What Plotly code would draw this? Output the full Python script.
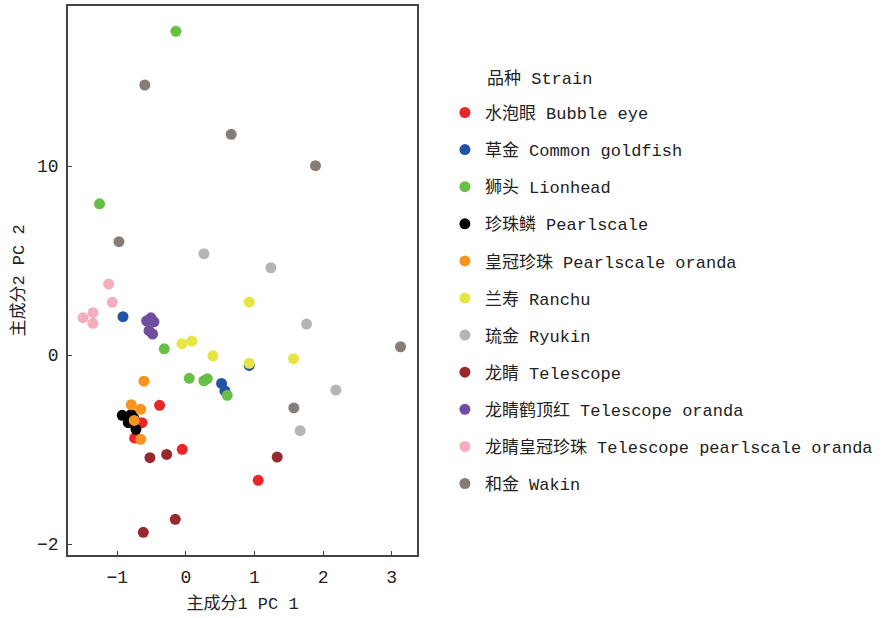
import plotly.graph_objects as go

strains = [
    "水泡眼 Bubble eye", "草金 Common goldfish", "狮头 Lionhead", "珍珠鳞 Pearlscale",
    "皇冠珍珠 Pearlscale oranda", "兰寿 Ranchu", "琉金 Ryukin", "龙睛 Telescope",
    "龙睛鹤顶红 Telescope oranda", "龙睛皇冠珍珠 Telescope pearlscale oranda", "和金 Wakin",
]
colors = ["#e8262a", "#2353a3", "#67bf45", "#000000", "#f7941d", "#e5e544",
          "#b5b5b7", "#962a2e", "#6f4ea0", "#f5aebe", "#857d78"]

bubble_x = [-0.384, -0.641, -0.748, -0.054, 1.054]
bubble_y = [-0.266, -0.358, -0.439, -0.499, -0.663]
common_x = [-0.918, 0.52, 0.569, 0.923]
common_y = [0.203, -0.150, -0.190, -0.055]
lion_x = [-0.146, -1.26, -0.316, 0.048, 0.262, 0.311, 0.602]
lion_y = [1.713, 0.80, 0.033, -0.123, -0.136, -0.125, -0.213]
pearl_x = [-0.929, -0.841, -0.797, -0.758, -0.729, -0.816]
pearl_y = [-0.319, -0.358, -0.314, -0.335, -0.393, -0.339]
poranda_x = [-0.612, -0.797, -0.66, -0.754, -0.66]
poranda_y = [-0.138, -0.263, -0.287, -0.346, -0.446]
ranchu_x = [0.923, -0.058, 0.087, 0.394, 1.57, 0.923]
ranchu_y = [0.280, 0.060, 0.074, -0.004, -0.019, -0.044]
ryukin_x = [0.262, 1.239, 1.759, 2.187, 1.666]
ryukin_y = [0.536, 0.462, 0.164, -0.185, -0.40]
tele_x = [-0.525, -0.281, 1.331, -0.156, -0.622]
tele_y = [-0.543, -0.526, -0.540, -0.869, -0.938]
toranda_x = [-0.573, -0.51, -0.466, -0.539, -0.486]
toranda_y = [0.181, 0.197, 0.176, 0.129, 0.111]
tpo_x = [-1.127, -1.074, -1.50, -1.356, -1.356]
tpo_y = [0.376, 0.279, 0.198, 0.224, 0.168]
wakin_x = [-0.60, 0.66, 1.89, -0.977, 3.13, 1.574]
wakin_y = [1.429, 1.168, 1.002, 0.60, 0.044, -0.280]

xs = [bubble_x, common_x, lion_x, pearl_x, poranda_x, ranchu_x, ryukin_x, tele_x, toranda_x, tpo_x, wakin_x]
ys = [bubble_y, common_y, lion_y, pearl_y, poranda_y, ranchu_y, ryukin_y, tele_y, toranda_y, tpo_y, wakin_y]

x_ticks = [-1, 0, 1, 2, 3]
y_ticks = [1, 0, -1]
y_ticktext = ["10", "0", "−2"]

FONT = "Liberation Mono, Noto Sans CJK SC, monospace"
TXT = "#222222"

fig = go.Figure()
for name, c, x, y in zip(strains, colors, xs, ys):
    fig.add_trace(go.Scatter(
        x=x, y=y, mode="markers", name=name, legendgroup=name,
        marker=dict(color=c, size=11, line=dict(width=0)),
    ))

axis_common = dict(
    showgrid=False, zeroline=False, showline=True, linecolor="#444444", linewidth=1.5,
    mirror=True, ticks="inside", ticklen=4, tickcolor="#444444", tickwidth=1,
    tickfont=dict(family=FONT, size=18, color=TXT), automargin=False,
)
fig.update_xaxes(range=[-1.72, 3.37], tickvals=x_ticks, ticklabelstandoff=5,
                 title=dict(text="主成分1 PC 1", font=dict(family=FONT, size=17, color=TXT), standoff=10),
                 **axis_common)
fig.update_yaxes(range=[-1.058, 1.847], tickvals=y_ticks, ticktext=y_ticktext, ticklabelstandoff=4,
                 title=dict(text="主成分2 PC 2", font=dict(family=FONT, size=17, color=TXT), standoff=8),
                 **axis_common)

fig.add_annotation(text="品种 Strain", xref="paper", yref="paper", x=1.195, y=0.867,
                   xanchor="left", yanchor="middle", showarrow=False,
                   font=dict(family=FONT, size=17, color=TXT))

fig.update_layout(
    width=892, height=618,
    margin=dict(l=68, r=475, t=6, b=63),
    paper_bgcolor="white", plot_bgcolor="white",
    font=dict(family=FONT, size=17, color=TXT),
    showlegend=True,
    legend=dict(x=1.08, xanchor="left", y=0.838, yanchor="top",
                font=dict(family=FONT, size=17, color=TXT),
                traceorder="grouped", tracegroupgap=12, itemsizing="trace"),
)
fig.write_html("out.html", config={"displayModeBar": False},
               post_script="document.body.style.margin='0';")
